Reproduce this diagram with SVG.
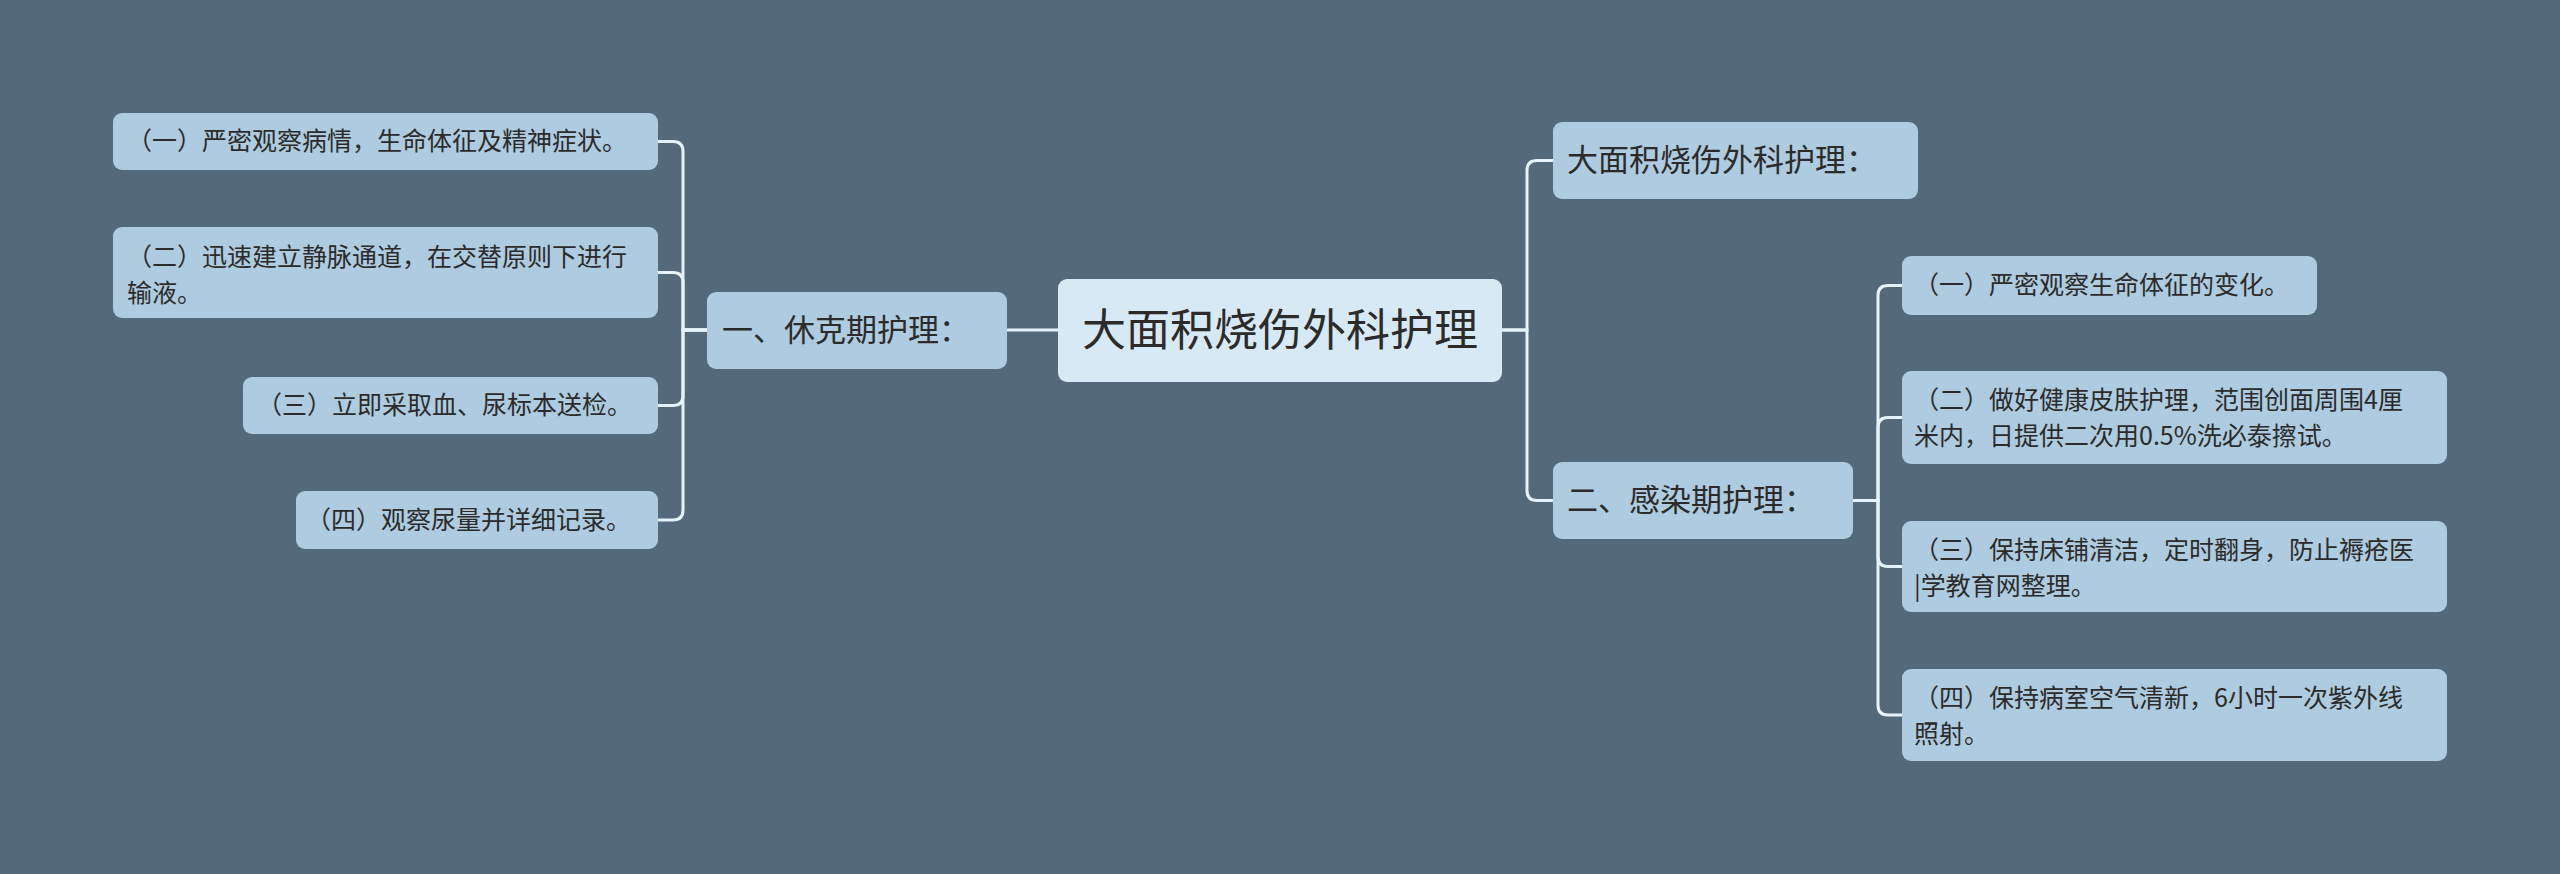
<svg xmlns="http://www.w3.org/2000/svg" width="2560" height="874" viewBox="0 0 2560 874">
<style>
text{font-family:"Noto Sans CJK SC","Noto Sans",sans-serif;fill:#2b2b2b}
.n{fill:#aecbe0}
.r{fill:#d6e9f5}
.leaf{font-size:25px}
.br{font-size:31px}
.c{fill:none;stroke:#e6f3fa;stroke-width:3}
</style>
<rect width="2560" height="874" fill="#546a7b"/>
<g id="connectors">
<path class="c" d="M1058,330 H1007"/>
<path class="c" d="M707,330 H683 V151.5 Q683,141.5 673,141.5 H658"/>
<path class="c" d="M707,330 H683 V282.5 Q683,272.5 673,272.5 H658"/>
<path class="c" d="M707,330 H683 V395.5 Q683,405.5 673,405.5 H658"/>
<path class="c" d="M707,330 H683 V510 Q683,520 673,520 H658"/>
<path class="c" d="M1502,330 H1527 V170.5 Q1527,160.5 1537,160.5 H1553"/>
<path class="c" d="M1502,330 H1527 V490.5 Q1527,500.5 1537,500.5 H1553"/>
<path class="c" d="M1853,500.5 H1878 V295.5 Q1878,285.5 1888,285.5 H1902"/>
<path class="c" d="M1853,500.5 H1878 V427.5 Q1878,417.5 1888,417.5 H1902"/>
<path class="c" d="M1853,500.5 H1878 V556.5 Q1878,566.5 1888,566.5 H1902"/>
<path class="c" d="M1853,500.5 H1878 V705 Q1878,715 1888,715 H1902"/>
</g>
<g id="root"><rect class="r" x="1058" y="279" width="444" height="103" rx="9"/><text x="1280" y="346" font-size="44" text-anchor="middle">大面积烧伤外科护理</text></g>
<g id="b1"><rect class="n" x="707" y="292" width="300" height="77" rx="9"/><text class="br" x="722" y="341">一、休克期护理：</text></g>
<g id="l1"><rect class="n" x="113" y="113" width="545" height="57" rx="9"/><text class="leaf" x="127" y="150">（一）严密观察病情，生命体征及精神症状。</text></g>
<g id="l2"><rect class="n" x="113" y="227" width="545" height="91" rx="9"/><text class="leaf" x="127" y="266">（二）迅速建立静脉通道，在交替原则下进行</text><text class="leaf" x="127" y="302">输液。</text></g>
<g id="l3"><rect class="n" x="243" y="377" width="415" height="57" rx="9"/><text class="leaf" x="257" y="414">（三）立即采取血、尿标本送检。</text></g>
<g id="l4"><rect class="n" x="296" y="491" width="362" height="58" rx="9"/><text class="leaf" x="306" y="529">（四）观察尿量并详细记录。</text></g>
<g id="b2"><rect class="n" x="1553" y="122" width="365" height="77" rx="9"/><text class="br" x="1567" y="171">大面积烧伤外科护理：</text></g>
<g id="b3"><rect class="n" x="1553" y="462" width="300" height="77" rx="9"/><text class="br" x="1567" y="511">二、感染期护理：</text></g>
<g id="r1"><rect class="n" x="1902" y="256" width="415" height="59" rx="9"/><text class="leaf" x="1914" y="294">（一）严密观察生命体征的变化。</text></g>
<g id="r2"><rect class="n" x="1902" y="371" width="545" height="93" rx="9"/><text class="leaf" x="1914" y="409">（二）做好健康皮肤护理，范围创面周围4厘</text><text class="leaf" x="1914" y="445">米内，日提供二次用0.5%洗必泰擦试。</text></g>
<g id="r3"><rect class="n" x="1902" y="521" width="545" height="91" rx="9"/><text class="leaf" x="1914" y="559">（三）保持床铺清洁，定时翻身，防止褥疮医</text><text class="leaf" x="1914" y="595">|学教育网整理。</text></g>
<g id="r4"><rect class="n" x="1902" y="669" width="545" height="92" rx="9"/><text class="leaf" x="1914" y="707">（四）保持病室空气清新，6小时一次紫外线</text><text class="leaf" x="1914" y="743">照射。</text></g>
</svg>
